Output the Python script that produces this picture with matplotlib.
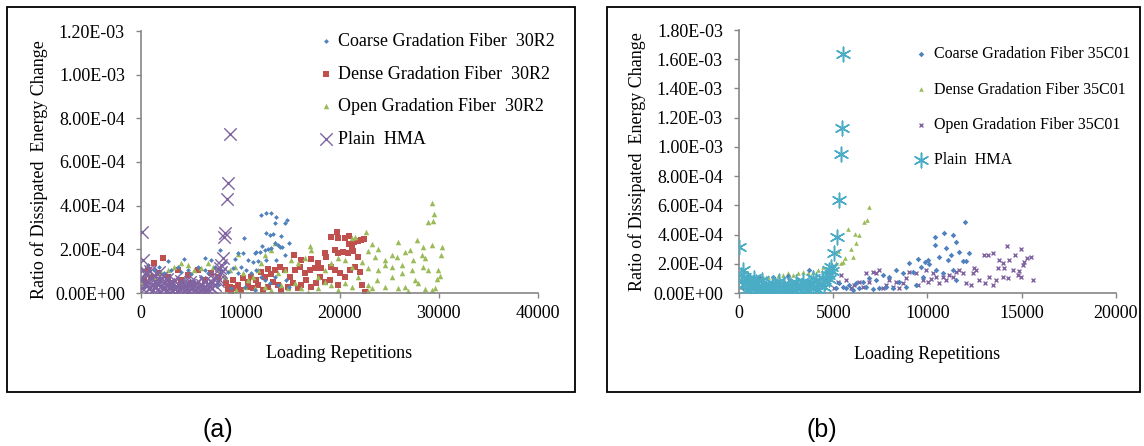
import numpy as np
import matplotlib
matplotlib.use("Agg")
import matplotlib.pyplot as plt
from matplotlib.patches import Rectangle
from matplotlib.ticker import FuncFormatter, MultipleLocator

plt.rcParams['font.family'] = ['Liberation Serif', 'DejaVu Serif']

### PANEL (a) DATA  (x = loading repetitions, y in units of 1e-4)
a_coarse_x = [12120, 12630, 13130, 13640, 13470, 14480, 14710, 12630, 12960, 13300, 14140,
              13800, 13970, 14210, 14880, 10370, 10270, 11450, 11620, 11950, 12190, 12460,
              12800, 13130, 13470, 9760, 9430, 10770, 11280, 11790, 12630, 13640, 14480,
              6400, 7070, 7910, 8420, 4310, 2760, 3700, 4710, 5720, 6400, 670, 1350, 1850,
              2360, 3030, 4040, 5050, 6060, 6730, 7410, 8080, 8750, 9260, 9760, 10100, 10610,
              11110, 11620, 12120, 12460, 12960, 13470, 13800, 14650, 14880, 340, 1680, 3370,
              5390, 7740, 9090, 10440, 11450]
a_coarse_y = [3.57, 3.65, 3.68, 3.50, 3.19, 3.19, 3.34, 2.76, 2.66, 2.70, 2.61,
              2.20, 2.12, 2.09, 2.28, 2.50, 1.85, 1.85, 1.89, 1.89, 2.15, 1.97,
              2.02, 2.05, 2.31, 1.82, 1.54, 1.51, 1.44, 1.48, 1.51, 1.51, 1.74,
              1.62, 1.51, 1.97, 1.44, 1.54, 1.48, 1.21, 1.05, 1.21, 1.05, 1.28, 1.05, 1.21,
              0.90, 1.05, 0.98, 0.87, 0.75, 0.90, 1.21, 1.05, 0.98, 1.13, 0.90, 1.21, 1.05,
              0.90, 1.05, 0.75, 0.60, 0.44, 0.75, 0.37, 0.60, 0.29, 0.29, 0.44, 0.37,
              0.52, 0.37, 0.21, 0.29, 0.14]

a_dense_x = [19700, 19870, 19130, 20540, 20980, 21480, 21820, 22160, 22420, 20940, 21210,
             18520, 18590, 19530, 19870, 20370, 20880, 21380, 21890, 15420, 16160, 17170,
             17850, 18180, 17510, 17000, 16500, 15990, 15490, 14980, 14480, 13970, 13470,
             13130, 12800, 12460, 12120, 11620, 11110, 10770, 10270, 9760, 9260, 8920, 8590,
             19190, 19530, 20030, 20540, 21040, 21550, 22050, 19870, 19020, 18520, 18010,
             17680, 17170, 16670, 16160, 15830, 15320, 14820, 14140, 13800, 13300, 12800,
             12290, 11790, 11280, 10770, 10100, 9600, 9090, 8750, 2190, 1350, 670, 1680,
             2690, 3700, 4710, 5720, 6400, 7070, 7740, 340, 1010, 3030, 4040, 5050, 22560, 22220]
a_dense_y = [2.81, 2.50, 2.55, 2.50, 2.61, 2.35, 2.40, 2.43, 2.47, 2.24, 2.12,
             1.82, 1.63, 1.97, 1.82, 1.89, 1.85, 1.92, 1.63, 1.74, 1.51, 1.57,
             1.36, 1.13, 1.13, 1.05, 0.90, 1.21, 1.05, 0.75, 1.05, 1.21, 1.05,
             0.87, 1.08, 0.75, 0.98, 0.60, 0.75, 0.52, 0.67, 0.37, 0.60, 0.29, 0.44,
             1.21, 1.05, 0.90, 0.75, 1.05, 1.21, 0.98, 0.37, 0.60, 0.52, 0.75,
             0.44, 0.29, 0.60, 0.37, 0.21, 0.44, 0.29, 0.14, 0.37, 0.52, 0.29,
             0.14, 0.37, 0.21, 0.29, 0.14, 0.21, 0.06, 0.17, 1.59, 1.36, 1.05, 0.90,
             0.75, 1.05, 0.82, 1.05, 0.60, 0.90, 0.75, 0.60, 0.75, 0.44, 0.60, 0.44, 0.06, 0.37]

a_open_x = [29360, 29530, 28960, 29460, 22660, 21210, 21550, 23230, 23910, 25930, 27780,
            28450, 29290, 30300, 30240, 22900, 23570, 24580, 25250, 25760, 26600, 27100,
            27440, 28280, 28620, 24580, 25250, 26260, 27270, 28450, 28960, 29970, 30140,
            29870, 23910, 23740, 24580, 25930, 26600, 27610, 28620, 29630, 29290, 27950,
            26940, 23230, 22900, 21890, 21210, 20540, 19870, 19190, 18520, 17850, 17170,
            17000, 16500, 15830, 15150, 14480, 13800, 13470, 13130, 12460, 12120, 11790,
            11280, 10770, 10270, 9760, 9430, 8920, 8420, 7910, 7240, 6730, 6060, 5390,
            4710, 4040, 3370, 2690, 2020, 1350, 670, 170, 21210, 20540, 19870, 19190,
            18520, 17850, 16840, 16160, 15490, 14820, 14140, 13130, 12460, 11450, 10440,
            9600, 25250, 26260, 22900, 22220, 22900]
a_open_y = [4.14, 3.60, 3.27, 3.31, 2.79, 2.50, 2.55, 2.24, 2.02, 2.32, 2.43,
            2.09, 2.20, 2.12, 1.74, 1.94, 1.66, 1.51, 1.74, 1.66, 1.89, 1.97,
            1.51, 1.74, 1.59, 1.28, 1.21, 1.28, 1.05, 1.21, 1.05, 1.05, 0.78,
            0.63, 1.05, 0.60, 0.29, 0.21, 0.26, 0.60, 0.17, 0.21, 0.14, 0.44,
            0.11, 0.21, 0.11, 0.75, 1.21, 1.51, 1.59, 1.36, 1.05, 0.75, 1.97,
            2.15, 1.59, 1.36, 1.51, 1.05, 0.90, 2.28, 1.97, 1.74, 1.36, 1.05,
            0.75, 0.60, 0.90, 1.79, 1.21, 1.05, 0.75, 1.05, 1.21, 1.36, 1.13, 1.05,
            1.28, 1.36, 1.21, 1.05, 0.98, 0.75, 0.90, 0.44, 0.29, 0.44, 0.14, 0.37,
            0.52, 0.21, 0.06, 0.21, 0.44, 0.21, 0.37, 0.14, 0.29, 0.21, 0.29,
            0.14, 0.75, 0.90, 1.13, 1.44, 0.37]

a_plain_x = [8970, 8750, 8690, 8490, 8350, 70, 170, 8250, 8080, 7910, 1850,
             150, 300, 420, 560, 700, 850, 980, 1100, 1250, 1400, 1520, 1650, 1800, 1900,
             2050, 2200, 2300, 2450, 2600, 2700, 2850, 3000, 3100, 3250, 3400, 3500, 3650,
             3800, 3900, 4050, 4200, 4300, 4450, 4600, 4750, 4850, 5000, 5150, 5300, 5450,
             5600, 5700, 5850, 6000, 6150, 6300, 6450, 6600, 6750, 6900, 7050, 7200, 7350,
             7500, 7650, 7800, 7950, 8100, 550, 1300, 2000, 2600, 3300, 4000, 4900, 5600,
             6400, 100, 250, 900]
a_plain_y = [7.28, 5.02, 4.31, 2.73, 2.58, 2.79, 1.51, 1.59, 1.28, 1.13, 0.98,
             0.62, 0.45, 0.85, 0.30, 0.52, 0.20, 0.68, 0.38, 0.15, 0.55, 0.28, 0.42, 0.10, 0.60,
             0.33, 0.18, 0.48, 0.25, 0.05, 0.40, 0.22, 0.35, 0.12, 0.46, 0.20, 0.30, 0.08,
             0.38, 0.16, 0.27, 0.44, 0.10, 0.32, 0.20, 0.05, 0.36, 0.18, 0.28, 0.12, 0.40,
             0.22, 0.06, 0.30, 0.15, 0.35, 0.24, 0.08, 0.42, 0.18, 0.30, 0.50, 0.25, 0.62,
             0.38, 0.72, 0.55, 0.85, 0.95, 0.95, 0.80, 0.70, 0.62, 0.58, 0.55, 0.50, 0.48,
             0.55, 0.25, 1.05, 1.00]

### PANEL (b) DATA
b_coarse_x = [12010, 11370, 10890, 10400, 10980, 11510, 11650, 12180, 12040, 11860, 11250,
              11070, 10630, 10410, 10010, 10100, 9880, 9480, 9650, 9030, 9210, 8680, 8330,
              7970, 7620, 7270, 6910, 6560, 6210, 5850, 5500, 10450, 10800, 11330, 11510,
              9740, 9390, 8860, 8500, 8150, 7800, 7440, 7090, 6740, 6380, 6030, 5680, 5320,
              5150, 4790, 4440, 4080, 3730, 3380, 3020, 2670, 2320, 1960, 1610, 1260, 900,
              550, 190, 3700, 2600, 1800, 1100, 400]
b_coarse_y = [4.88, 3.97, 4.08, 3.85, 3.06, 3.51, 2.83, 2.76, 2.21, 2.21, 2.60,
              2.26, 2.49, 3.28, 2.26, 1.98, 2.14, 2.33, 1.80, 2.03, 1.46, 1.35, 1.57,
              1.12, 1.23, 0.89, 1.00, 0.78, 0.66, 0.55, 0.43, 1.57, 1.35, 1.57, 0.89,
              1.12, 0.55, 0.43, 0.78, 0.32, 0.43, 0.32, 0.25, 0.43, 0.32, 0.21, 0.32, 0.66,
              0.32, 0.89, 0.55, 0.43, 0.66, 0.32, 0.78, 0.43, 0.66, 0.32, 0.55, 0.43, 0.78,
              0.55, 0.32, 1.55, 1.15, 1.10, 1.05, 1.15]

b_dense_x = [6910, 6770, 6650, 6380, 6170, 5800, 5940, 6030, 6210, 5500, 5410, 5230, 5640,
             5150, 4970, 4700, 4440, 4170, 3910, 3640, 3380, 3110, 2850, 2580, 2320, 2050,
             1790, 1520, 1260, 990, 640, 280, 110, 4260, 3730, 3020, 2320, 1610, 4620]
b_dense_y = [5.91, 5.00, 4.88, 3.97, 4.04, 4.36, 2.99, 2.49, 3.44, 2.14, 2.03, 2.90, 2.37,
             2.03, 1.69, 1.57, 1.80, 1.57, 1.46, 1.39, 1.46, 1.35, 1.23, 1.35, 1.23, 1.16,
             1.07, 1.12, 1.07, 1.00, 0.89, 0.66, 0.43, 0.89, 0.55, 0.78, 0.43, 0.66, 1.12]

b_open_x = [14200, 14960, 13450, 13010, 13190, 15490, 14660, 14340, 13810, 13990, 14070,
            13720, 15130, 15260, 15050, 14870, 14520, 14780, 14960, 15580, 14250, 13990,
            13630, 13280, 13070, 13450, 12750, 12570, 12480, 12390, 12310, 12040, 11860,
            11690, 11510, 11330, 11160, 10980, 10800, 10630, 10450, 10270, 10180, 10010,
            9920, 9740, 9480, 9390, 9030, 8860, 8680, 8500, 8330, 8150, 7970, 7800, 7620,
            7440, 7270, 7090, 6910, 6740, 6560, 6380, 6120, 5940, 5680, 5410, 5230, 5060,
            4880, 4620, 4350, 4080, 3820, 3380, 3020, 2670, 2320, 1960, 1610, 1260, 900,
            550, 190]
b_open_y = [3.22, 3.03, 2.76, 2.60, 2.60, 2.49, 2.60, 2.26, 2.26, 2.03, 1.69,
            1.69, 2.14, 2.37, 1.92, 1.51, 1.57, 1.23, 1.12, 0.89, 1.00, 1.07,
            0.89, 1.07, 0.66, 0.55, 0.89, 1.57, 1.69, 1.35, 0.55, 0.66, 1.35,
            1.57, 1.46, 1.07, 1.23, 0.89, 1.12, 0.66, 1.12, 1.35, 0.94, 0.78,
            1.57, 0.89, 0.55, 1.35, 1.46, 1.00, 0.66, 0.32, 0.78, 0.43, 0.89, 0.55, 0.32,
            1.57, 1.35, 1.46, 0.78, 1.35, 0.43, 0.78, 0.55, 0.32, 0.89, 1.23, 0.78, 0.32,
            1.35, 0.89, 0.55, 0.89, 0.66, 0.43, 0.55, 0.89, 0.55, 0.78, 0.43, 0.66, 0.89,
            1.12, 0.78]

b_plain_x = [5530, 5460, 5390, 5320, 5220, 5040, 4900, 4790, 20, 190,
             100, 250, 400, 550, 700, 850, 1000, 1150, 1300, 1450, 1600, 1750, 1900, 2050,
             2200, 2350, 2500, 2650, 2800, 2950, 3100, 3250, 3400, 3500, 3650, 3800, 3950,
             4100, 4250, 4400, 4550, 4700, 4800, 4950, 300, 600, 900, 1200, 1500, 1800,
             2100, 2400, 2700, 3000, 3300, 3600, 3900, 4200, 4500, 150, 450, 800]
b_plain_y = [16.36, 11.31, 9.51, 6.36, 3.85, 2.71, 1.80, 1.57, 3.12, 1.57,
             1.25, 1.10, 0.95, 0.80, 0.55, 0.35, 0.20, 0.45, 0.15, 0.60, 0.30, 0.10, 0.50, 0.25,
             0.05, 0.40, 0.18, 0.65, 0.30, 0.12, 0.55, 0.25, 0.80, 0.02, 0.45, 0.70, 0.35,
             0.90, 0.55, 1.05, 0.75, 1.25, 0.95, 1.50, 0.60, 0.35, 0.75, 0.90, 0.05, 0.70,
             0.85, 0.60, 0.05, 0.75, 0.50, 0.20, 1.00, 0.20, 0.40, 0.85, 0.20, 1.00]

legend_a = ['Coarse Gradation Fiber  30R2', 'Dense Gradation Fiber  30R2',
            'Open Gradation Fiber  30R2', 'Plain  HMA']
legend_b = ['Coarse Gradation Fiber 35C01', 'Dense Gradation Fiber 35C01',
            'Open Gradation Fiber 35C01', 'Plain  HMA']

blue = '#4F81BD'
red = '#C0504D'
green = '#9BBB59'
purple = '#8064A2'
cyan = '#4BACC6'
spine_col = '#868686'

W, H = 1144, 446
fig = plt.figure(figsize=(W / 100, H / 100), dpi=100)

# outer frames
fig.patches.append(Rectangle((7 / W, 1 - 392 / H), 568 / W, 385 / H, transform=fig.transFigure,
                             fill=False, edgecolor='black', linewidth=1.3))
fig.patches.append(Rectangle((607 / W, 1 - 392 / H), 533 / W, 385 / H, transform=fig.transFigure,
                             fill=False, edgecolor='black', linewidth=1.3))

ax_a = fig.add_axes([141 / W, 1 - 293 / H, (538 - 141) / W, (293 - 31) / H])
ax_b = fig.add_axes([739 / W, 1 - 293 / H, (1116 - 739) / W, (293 - 30) / H])

e4 = 1e-4
ax_a.scatter(a_coarse_x, np.array(a_coarse_y) * e4, marker='D', s=6, color=blue, lw=0, label=legend_a[0], zorder=3)
ax_a.scatter(a_dense_x, np.array(a_dense_y) * e4, marker='s', s=15, color=red, lw=0, label=legend_a[1], zorder=2)
ax_a.scatter(a_open_x, np.array(a_open_y) * e4, marker='^', s=16, color=green, lw=0, label=legend_a[2], zorder=2)
ax_a.scatter(a_plain_x, np.array(a_plain_y) * e4, marker='x', s=80, color=purple, lw=1.0, label=legend_a[3], zorder=4)

ax_b.scatter(b_coarse_x, np.array(b_coarse_y) * e4, marker='D', s=8, color=blue, lw=0, label=legend_b[0], zorder=3)
ax_b.scatter(b_dense_x, np.array(b_dense_y) * e4, marker='^', s=11, color=green, lw=0, label=legend_b[1], zorder=2)
ax_b.scatter(b_open_x, np.array(b_open_y) * e4, marker='x', s=8, color=purple, lw=1.0, label=legend_b[2], zorder=2)
ax_b.scatter(b_plain_x, np.array(b_plain_y) * e4, marker=(6, 2, 0), s=110, color=cyan, lw=1.1, label=legend_b[3], zorder=4)

sci = FuncFormatter(lambda v, p: '%.2E' % v)
for ax, xmax, xstep, ymax, ystep in [(ax_a, 40000, 10000, 1.2e-3, 2e-4),
                                     (ax_b, 20000, 5000, 1.8e-3, 2e-4)]:
    ax.set_xlim(0, xmax)
    ax.set_ylim(0, ymax)
    ax.xaxis.set_major_locator(MultipleLocator(xstep))
    ax.yaxis.set_major_locator(MultipleLocator(ystep))
    ax.yaxis.set_major_formatter(sci)
    for s in ['top', 'right']:
        ax.spines[s].set_visible(False)
    for s in ['left', 'bottom']:
        ax.spines[s].set_color(spine_col)
        ax.spines[s].set_linewidth(1.2)
    ax.tick_params(direction='out', length=3.5, width=1.0, color=spine_col, labelsize=13)
    ax.tick_params(axis='y', pad=8)
    ax.tick_params(axis='x', pad=5)
    ax.set_xlabel('Loading Repetitions', fontsize=13)
    ax.set_ylabel('Ratio of Dissipated  Energy Change', fontsize=13)
    ax.patch.set_alpha(0)

ax_a.xaxis.set_label_coords(0.5, -0.20)
ax_b.xaxis.set_label_coords(0.5, -0.20)
ax_a.yaxis.set_label_coords(-0.235, 0.47)
ax_b.yaxis.set_label_coords(-0.247, 0.5)

ax_a.legend(loc='upper left', bbox_to_anchor=(0.42, 1.02), frameon=False, fontsize=13,
            labelspacing=0.86, handletextpad=0.1, handlelength=1.2, borderaxespad=0, scatterpoints=1)
ax_b.legend(loc='upper left', bbox_to_anchor=(0.44, 0.962), frameon=False, fontsize=11.5,
            labelspacing=1.2, handletextpad=0.2, handlelength=1.2, borderaxespad=0, scatterpoints=1)

fig.text(218 / W, 1 - 430 / H, '(a)', fontsize=18, family=['Liberation Sans', 'DejaVu Sans'],
         ha='center', va='center')
fig.text(822 / W, 1 - 430 / H, '(b)', fontsize=18, family=['Liberation Sans', 'DejaVu Sans'],
         ha='center', va='center')

fig.savefig('out.png', dpi=100)
